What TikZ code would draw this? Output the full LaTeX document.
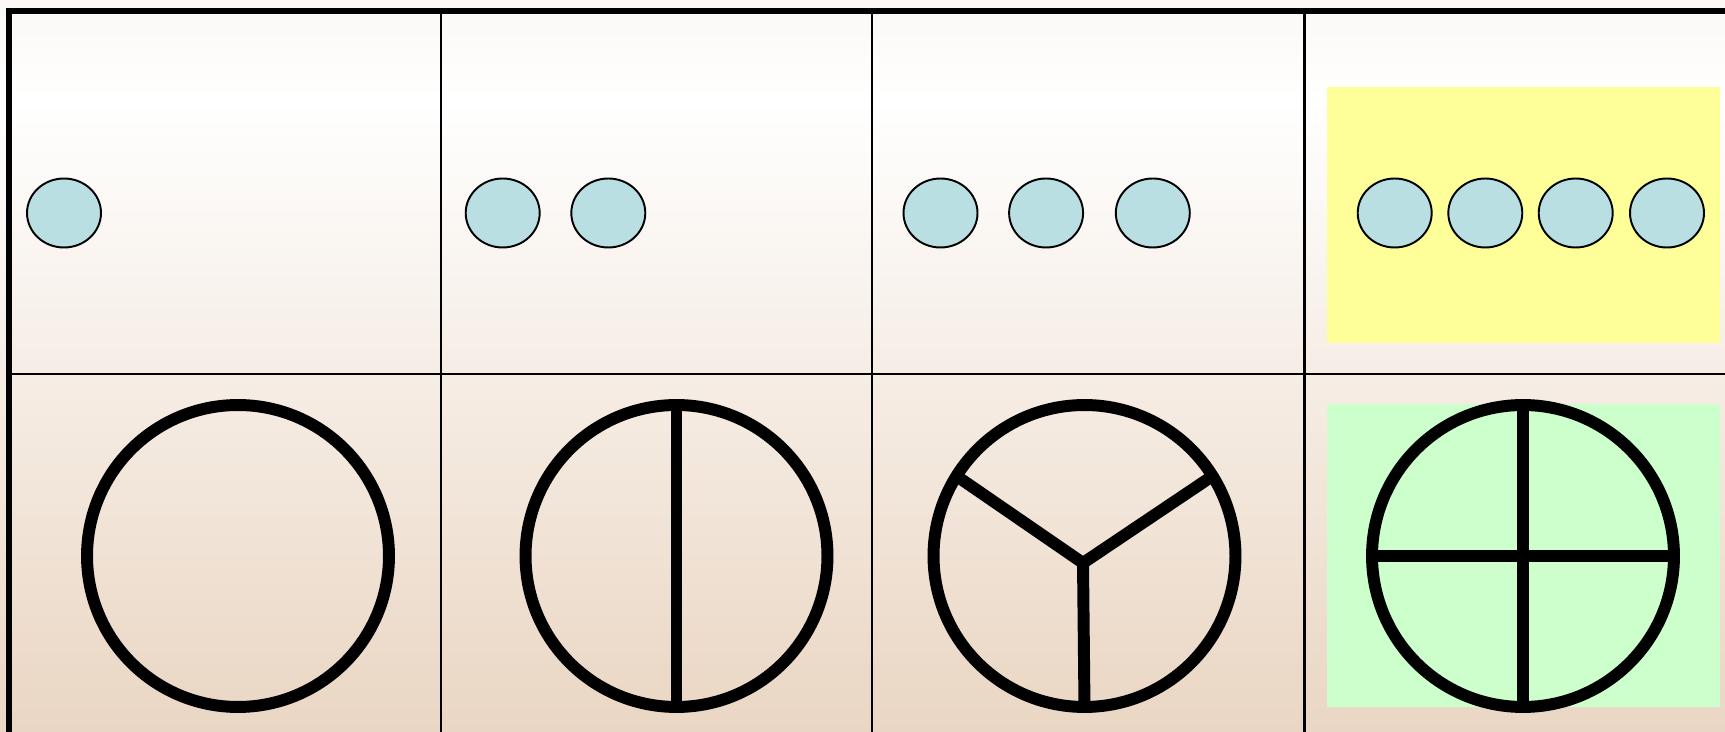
\documentclass[tikz,border=0pt]{standalone}
\usepackage{tikz}
\usetikzlibrary{shapes.geometric}
\definecolor{beadblue}{HTML}{BADFE3}
\definecolor{sunpad}{HTML}{FFFF99}
\definecolor{mintpad}{HTML}{CCFFCC}
\definecolor{paperlow}{HTML}{EAD6C3}
\definecolor{papertop}{HTML}{FBF8F5}
\tikzset{
  bead/.style={ellipse,draw,fill=beadblue,line width=1.1pt,minimum width=1.48cm,minimum height=1.38cm,inner sep=0pt},
  wheel/.style={circle,draw,line width=6.8pt,minimum size=6.04cm,inner sep=0pt,outer sep=0pt},
  spoke/.style={line width=6.8pt},
  gridline/.style={line width=1.4pt}
}

\begin{document}
\begin{tikzpicture}[x=0.02cm,y=-0.02cm]
  \useasboundingbox (0,0) rectangle (1725,732);
  \shade[top color=papertop,bottom color=white] (0,0) rectangle (1725,100);
  \shade[top color=white,bottom color=paperlow] (0,99.5) rectangle (1725,732);
  \fill[sunpad] (1327,87) rectangle (1720,343);
  \fill[mintpad] (1327,404) rectangle (1720,707);
  \foreach \x in {441,872,1304.6}{\draw[gridline] (\x,11)--(\x,732);}
  \draw[gridline] (9,374)--(1725,374);
  \draw[line width=3.4pt] (9,732)--(9,11)--(1725,11);
  \foreach \x [count=\i] in {64,502.7,608.3,940.5,1046.1,1152.8,1394.7,1485.3,1575.7,1667}{\node[bead] (b\i) at (\x,213){};}
  \node[wheel] (w1) at (238,556){};
  \node[wheel] (w2) at (676.5,556){};
  \node[wheel] (w3) at (1084.5,556){};
  \node[wheel] (w4) at (1523,556){};
  \coordinate (hub) at (1083,563);
  \draw[spoke] (w2.north)--(w2.south);
  \draw[spoke] (w3.148)--(hub)--(w3.32);
  \draw[spoke] (hub)--(w3.south);
  \draw[spoke] (w4.north)--(w4.south);
  \draw[spoke] (w4.west)--(w4.east);
\end{tikzpicture}
\end{document}
